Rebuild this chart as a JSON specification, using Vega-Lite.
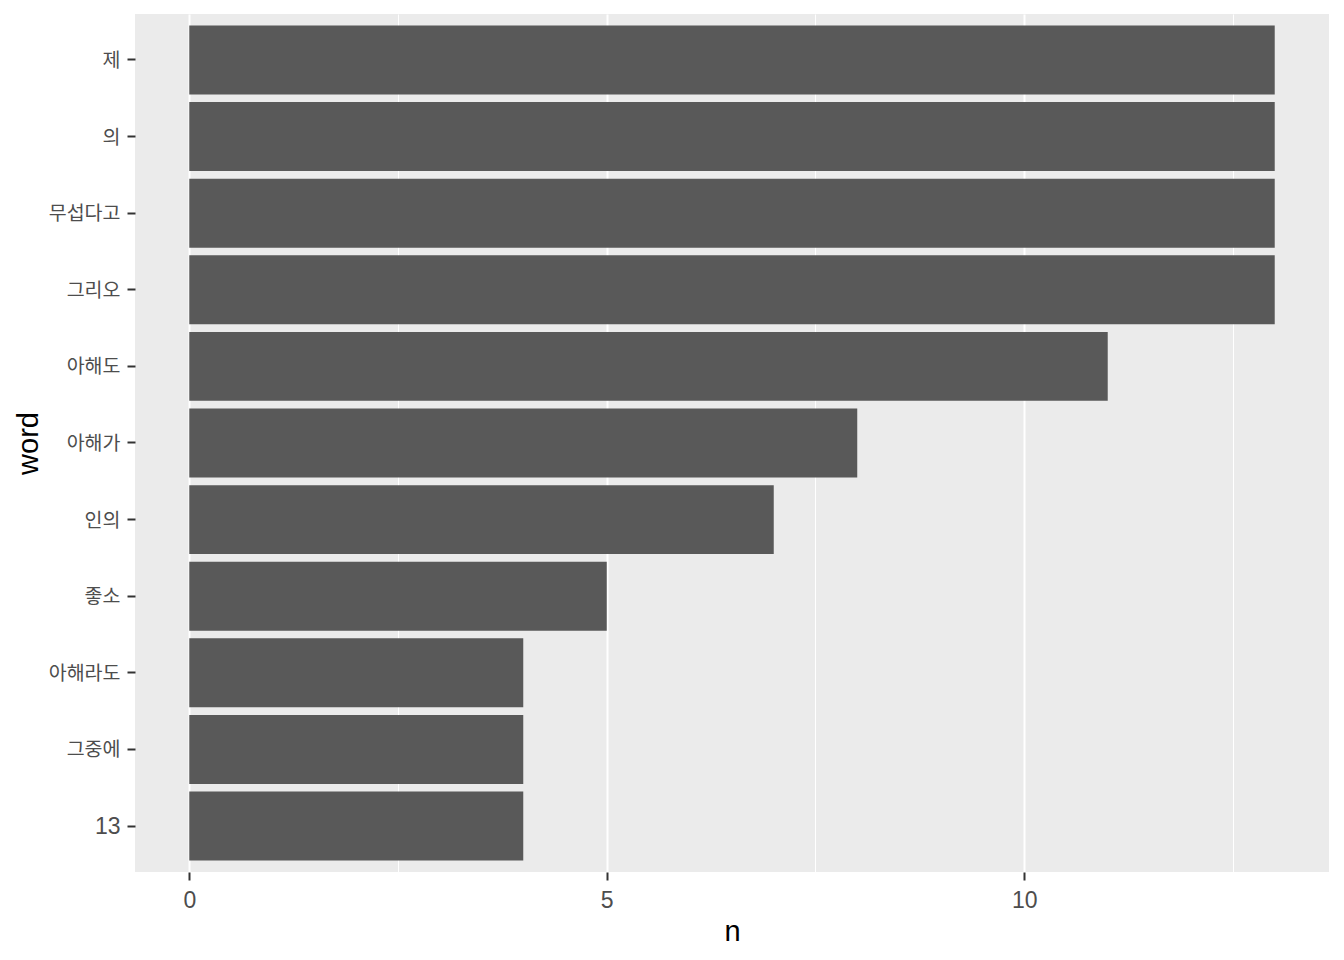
{
  "$schema": "https://vega.github.io/schema/vega-lite/v6.json",
  "width": 1194,
  "height": 858,
  "autosize": {"type": "none"},
  "padding": {"left": 135, "top": 14, "right": 15, "bottom": 88},
  "background": "white",
  "config": {
    "view": {"fill": "#EBEBEB", "stroke": null},
    "axis": {"domain": false}
  },
  "data": {
    "values": [
      {"word": "제", "n": 13},
      {"word": "의", "n": 13},
      {"word": "무섭다고", "n": 13},
      {"word": "그리오", "n": 13},
      {"word": "아해도", "n": 11},
      {"word": "아해가", "n": 8},
      {"word": "인의", "n": 7},
      {"word": "좋소", "n": 5},
      {"word": "아해라도", "n": 4},
      {"word": "그중에", "n": 4},
      {"word": "13", "n": 4}
    ]
  },
  "mark": {"type": "bar", "color": "#595959"},
  "encoding": {
    "y": {
      "field": "word",
      "type": "nominal",
      "sort": null,
      "scale": {"paddingInner": 0.1, "paddingOuter": 0.15, "round": false},
      "axis": {
        "title": "word",
        "titleFont": "Liberation Sans",
        "titleFontSize": 29,
        "titleFontWeight": "normal",
        "titleColor": "#000000",
        "titlePadding": 5,
        "labelFont": {"condition": {"test": "datum.value === '13'", "value": "Liberation Sans"}, "value": "Noto Sans CJK KR"},
        "labelFontSize": {"condition": {"test": "datum.value === '13'", "value": 23}, "value": 19.5},
        "labelColor": "#4D4D4D",
        "labelPadding": 7,
        "labelOffset": 1,
        "tickColor": "#333333",
        "tickSize": 8,
        "tickWidth": 2,
        "gridColor": "#FFFFFF",
        "gridWidth": 2,
        "gridOpacity": 1
      }
    },
    "x": {
      "field": "n",
      "type": "quantitative",
      "scale": {"domain": [-0.65, 13.65], "nice": false, "zero": false},
      "axis": {
        "title": "n",
        "titleFont": "Liberation Sans",
        "titleFontSize": 29,
        "titleFontWeight": "normal",
        "titleColor": "#000000",
        "titlePadding": 5,
        "values": [0, 2.5, 5, 7.5, 10, 12.5],
        "labelExpr": "datum.value % 5 === 0 ? datum.label : ''",
        "labelFont": "Liberation Sans",
        "labelFontSize": 23,
        "labelColor": "#4D4D4D",
        "labelPadding": 9,
        "tickColor": "#333333",
        "tickSize": 8,
        "tickWidth": 2,
        "tickOpacity": {"condition": {"test": "datum.value % 5 === 0", "value": 1}, "value": 0},
        "gridColor": "#FFFFFF",
        "gridWidth": {"condition": {"test": "datum.value % 5 === 0", "value": 2}, "value": 1},
        "gridOpacity": 1
      }
    }
  }
}
